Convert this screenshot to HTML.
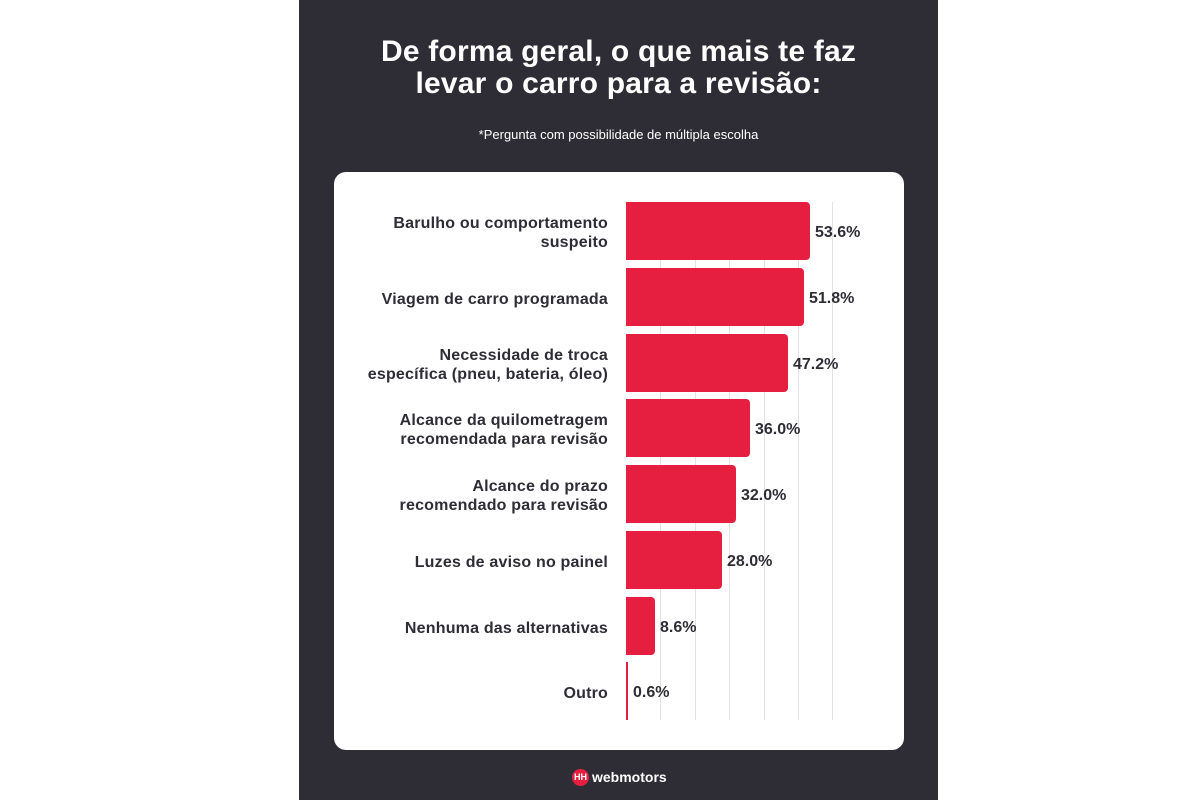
<!DOCTYPE html>
<html><head><meta charset="utf-8"><style>
body{margin:0;width:1200px;height:800px;background:#fff;position:relative;overflow:hidden;font-family:"Liberation Sans",sans-serif}
.panel{position:absolute;left:299px;top:0;width:639px;height:800px;background:#2e2d35}
.t{position:absolute;left:299px;width:639px;text-align:center;color:#fff}
.card{position:absolute;left:334px;top:172px;width:570px;height:578px;background:#fff;border-radius:12px}
.g{position:absolute;top:202px;height:518px;width:1px;background:#e3e3e3}
.bar{position:absolute;left:626px;height:58px;background:#e61e40;border-radius:0 4px 4px 0}
.lab{position:absolute;right:592px;width:260px;text-align:right;font-size:16px;font-weight:bold;color:#2e2d35;line-height:19px;display:flex;align-items:center;justify-content:flex-end;height:58px;letter-spacing:0.2px;padding-top:2px}
.v{position:absolute;font-size:16px;font-weight:bold;color:#2e2d35;line-height:58px;height:58px;margin-top:2px}
</style></head><body>
<div class="panel"></div>
<div class="t" style="top:36px;font-size:30px;font-weight:bold;line-height:32px;letter-spacing:0.2px">De forma geral, o que mais te faz<br>levar o carro para a revisão:</div>
<div class="t" style="top:127px;font-size:13px">*Pergunta com possibilidade de múltipla escolha</div>
<div class="card"></div>
<div class="g" style="left:660px"></div><div class="g" style="left:695px"></div><div class="g" style="left:729px"></div><div class="g" style="left:764px"></div><div class="g" style="left:798px"></div><div class="g" style="left:832px"></div>

<div class="lab" style="top:202px">Barulho ou comportamento<br>suspeito</div>
<div class="bar" style="top:202px;width:184px"></div><div class="v" style="top:202px;left:815px">53.6%</div>
<div class="lab" style="top:268px">Viagem de carro programada</div>
<div class="bar" style="top:268px;width:178px"></div><div class="v" style="top:268px;left:809px">51.8%</div>
<div class="lab" style="top:334px">Necessidade de troca<br>específica (pneu, bateria, óleo)</div>
<div class="bar" style="top:334px;width:162px"></div><div class="v" style="top:334px;left:793px">47.2%</div>
<div class="lab" style="top:399px">Alcance da quilometragem<br>recomendada para revisão</div>
<div class="bar" style="top:399px;width:124px"></div><div class="v" style="top:399px;left:755px">36.0%</div>
<div class="lab" style="top:465px">Alcance do prazo<br>recomendado para revisão</div>
<div class="bar" style="top:465px;width:110px"></div><div class="v" style="top:465px;left:741px">32.0%</div>
<div class="lab" style="top:531px">Luzes de aviso no painel</div>
<div class="bar" style="top:531px;width:96px"></div><div class="v" style="top:531px;left:727px">28.0%</div>
<div class="lab" style="top:597px">Nenhuma das alternativas</div>
<div class="bar" style="top:597px;width:29px"></div><div class="v" style="top:597px;left:660px">8.6%</div>
<div class="lab" style="top:662px">Outro</div>
<div class="bar" style="top:662px;width:2px;border-radius:0"></div><div class="v" style="top:662px;left:633px">0.6%</div>

<div style="position:absolute;left:572px;top:769px;width:17px;height:17px;border-radius:50%;background:#e61e40;color:#fff;font-size:9px;font-weight:bold;text-align:center;line-height:17px">HH</div>
<div style="position:absolute;left:592px;top:767px;color:#fff;font-size:14px;font-weight:bold;line-height:20px">webmotors</div>
</body></html>
